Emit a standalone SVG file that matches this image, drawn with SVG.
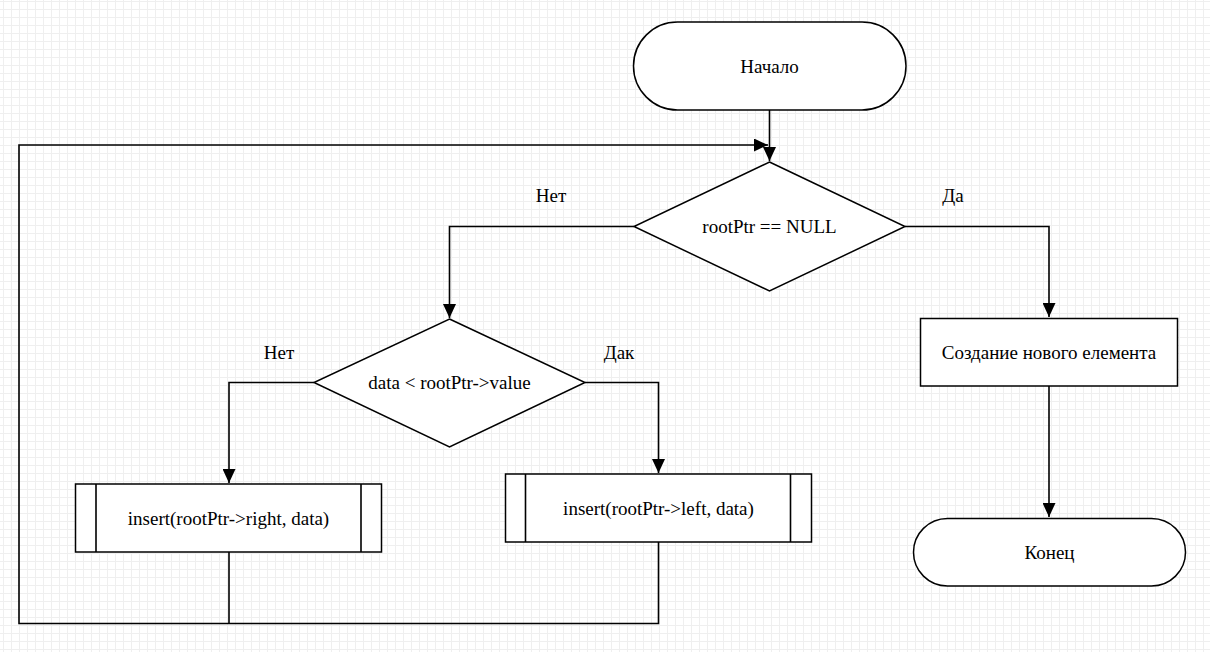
<svg xmlns="http://www.w3.org/2000/svg" width="1210" height="652" viewBox="0 0 1210 652">
<defs>
<pattern id="grid" x="3" y="1" width="8" height="8" patternUnits="userSpaceOnUse">
<path d="M0.5,0 V8 M0,0.5 H8" stroke="#efefef" stroke-width="1" fill="none"/>
</pattern>
<marker id="arr" viewBox="0 0 14 13" refX="14" refY="6.5" markerWidth="14" markerHeight="13" markerUnits="userSpaceOnUse" orient="auto">
<path d="M0,0 L14,6.5 L0,13 Z" fill="#000"/>
</marker>
<style>
.shape{fill:#fff;stroke:#000;stroke-width:1.5}
.line{fill:none;stroke:#000;stroke-width:1.6}
.t{font-family:"Liberation Serif","Times New Roman",serif;font-size:19px;fill:#000;text-anchor:middle;dominant-baseline:central}
.lbl{font-family:"Liberation Serif","Times New Roman",serif;font-size:19px;fill:#000;text-anchor:middle;dominant-baseline:central}
</style>
</defs>
<rect width="1210" height="652" fill="#fff"/>
<rect width="1210" height="652" fill="url(#grid)"/>
<g id="connectors">
<path class="line" d="M769.5,110 V161" marker-end="url(#arr)"/>
<path class="line" d="M634,226.5 H449.5 V318" marker-end="url(#arr)"/>
<path class="line" d="M905,226.5 H1049 V317" marker-end="url(#arr)"/>
<path class="line" d="M314,382.5 H229 V483" marker-end="url(#arr)"/>
<path class="line" d="M585,382.5 H658.5 V473" marker-end="url(#arr)"/>
<path class="line" d="M1049,386 V517" marker-end="url(#arr)"/>
<path class="line" d="M658.5,542 V623.5 H19 V145 H768" marker-end="url(#arr)"/>
<path class="line" d="M229,552 V623.5"/>
<text class="lbl" x="551" y="195">Нет</text>
<text class="lbl" x="953" y="195">Да</text>
<text class="lbl" x="279" y="352">Нет</text>
<text class="lbl" x="619" y="352">Дак</text>
</g>
<g id="start">
<rect class="shape" x="633.5" y="22" width="272.5" height="88" rx="44" ry="44"/>
<text class="t" x="769.5" y="66.5">Начало</text>
</g>
<g id="cond1">
<polygon class="shape" points="769.5,162 905,226.5 769.5,291 634,226.5"/>
<text class="t" x="769.5" y="226.5">rootPtr == NULL</text>
</g>
<g id="cond2">
<polygon class="shape" points="449.5,319 585,382.5 449.5,447 314,382.5"/>
<text class="t" x="449.5" y="382.5">data &lt; rootPtr-&gt;value</text>
</g>
<g id="insertRight">
<rect class="shape" x="75.5" y="484" width="306" height="68"/>
<path class="line" d="M96,484 V552 M361,484 V552" stroke-width="1.5"/>
<text class="t" x="228.5" y="518">insert(rootPtr-&gt;right, data)</text>
</g>
<g id="insertLeft">
<rect class="shape" x="505.5" y="474" width="306" height="68"/>
<path class="line" d="M525.5,474 V542 M790.5,474 V542" stroke-width="1.5"/>
<text class="t" x="658.5" y="508">insert(rootPtr-&gt;left, data)</text>
</g>
<g id="create">
<rect class="shape" x="920.5" y="318.5" width="257" height="67.5"/>
<text class="t" x="1049" y="352.5">Создание нового елемента</text>
</g>
<g id="end">
<rect class="shape" x="913.5" y="518.5" width="272" height="67.5" rx="34" ry="34"/>
<text class="t" x="1049.5" y="552.5">Конец</text>
</g>
</svg>
